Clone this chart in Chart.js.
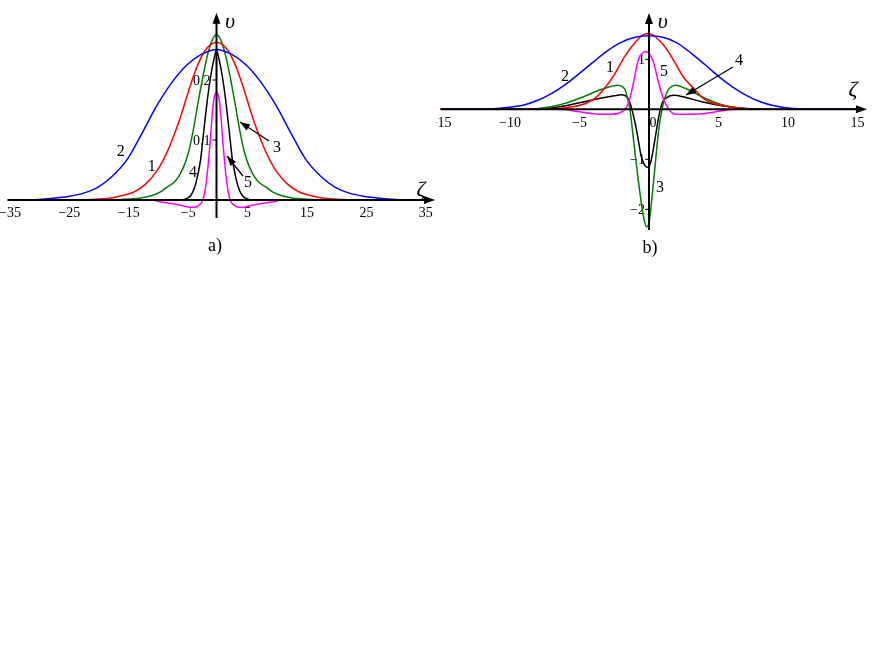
<!DOCTYPE html>
<html>
<head>
<meta charset="utf-8">
<script src="https://cdn.jsdelivr.net/npm/chart.js@4.4.0/dist/chart.umd.min.js"></script>
<style>
  body { margin: 0; background: #fff; width: 872px; height: 654px; overflow: hidden; }
  .panel { position: absolute; top: 0; width: 436px; height: 260px; }
  #wrapA { left: 0; }
  #wrapB { left: 436px; }
</style>
</head>
<body>
<div class="panel" id="wrapA"><canvas id="chartA" width="436" height="260"></canvas></div>
<div class="panel" id="wrapB"><canvas id="chartB" width="436" height="260"></canvas></div>
<script>
// ---- pannello a) ----
const zetaA1 = [-35, -25, -21, -18, -16, -14, -12, -10, -9, -8, -7, -6, -5, -4, -3, -2, -1, 0, 1, 2, 3, 4, 5, 6, 7, 8, 9, 10, 12, 14, 16, 18, 21, 25, 35];
const vA1 = [0, 0, 0.001, 0.003, 0.007, 0.013, 0.026, 0.049, 0.066, 0.087, 0.112, 0.140, 0.172, 0.203, 0.229, 0.248, 0.259, 0.263, 0.259, 0.248, 0.229, 0.203, 0.172, 0.140, 0.112, 0.087, 0.066, 0.049, 0.026, 0.013, 0.007, 0.003, 0.001, 0, 0];

const zetaA2 = [-35, -30, -27.5, -25, -22.5, -20, -17.5, -15, -12.5, -10, -7.5, -5, -2.5, 0, 2.5, 5, 7.5, 10, 12.5, 15, 17.5, 20, 22.5, 25, 27.5, 30, 35];
const vA2 = [0, 0.001, 0.003, 0.006, 0.011, 0.021, 0.040, 0.068, 0.112, 0.158, 0.196, 0.225, 0.243, 0.251, 0.243, 0.225, 0.196, 0.158, 0.112, 0.068, 0.040, 0.021, 0.011, 0.006, 0.003, 0.001, 0];

const zetaA3 = [-35, -20, -16, -13, -11, -9.5, -8.4, -7, -6.2, -5.5, -4.75, -3.9, -3, -2.2, -1.5, -0.75, 0, 0.75, 1.5, 2.2, 3, 3.9, 4.75, 5.5, 6.2, 7, 8.4, 9.5, 11, 13, 16, 20, 35];
const vA3 = [0, 0, 0.001, 0.003, 0.007, 0.013, 0.021, 0.031, 0.042, 0.056, 0.078, 0.117, 0.168, 0.21, 0.242, 0.266, 0.276, 0.266, 0.242, 0.21, 0.168, 0.117, 0.078, 0.056, 0.042, 0.031, 0.021, 0.013, 0.007, 0.003, 0.001, 0, 0];

const zetaA4 = [-35, -6, -4.9, -4.3, -3.75, -3.15, -2.65, -2.25, -1.6, -1.0, -0.35, 0, 0.35, 1.0, 1.6, 2.25, 2.65, 3.15, 3.75, 4.3, 4.9, 6, 35];
const vA4 = [0, 0, 0.003, 0.008, 0.019, 0.042, 0.069, 0.105, 0.162, 0.205, 0.238, 0.25, 0.238, 0.205, 0.162, 0.105, 0.069, 0.042, 0.019, 0.008, 0.003, 0, 0];

const zetaA5 = [-35, -11, -9.5, -7.5, -5.5, -4.6, -3.8, -3.0, -2.4, -2.0, -1.6, -1.3, -1.0, -0.7, -0.4, 0, 0.4, 0.7, 1.0, 1.3, 1.6, 2.0, 2.4, 3.0, 3.8, 4.6, 5.5, 7.5, 9.5, 11, 35];
const vA5 = [0, 0, -0.003, -0.006, -0.010, -0.012, -0.012, -0.009, -0.002, 0.012, 0.04, 0.07, 0.105, 0.145, 0.17, 0.179, 0.17, 0.145, 0.105, 0.07, 0.04, 0.012, -0.002, -0.009, -0.012, -0.012, -0.010, -0.006, -0.003, 0, 0];

const xTicksA = [-35, -25, -15, -5, 5, 15, 25, 35];
const yTicksA = [0.1, 0.2];

// ---- pannello b) ----
const zetaB1 = [-15, -8, -7.5, -6.3, -5.5, -4.86, -3.9, -3.2, -2.5, -1.77, -1.05, -0.43, -0.1, 0.25, 1.03, 1.75, 2.46, 3.2, 3.9, 4.6, 5.34, 6.8, 8, 15];
const vB1 = [0, 0, 0.005, 0.02, 0.05, 0.09, 0.22, 0.42, 0.69, 1.05, 1.32, 1.49, 1.51, 1.49, 1.29, 0.99, 0.65, 0.42, 0.22, 0.12, 0.07, 0.01, 0, 0];

const zetaB2 = [-15, -12, -11, -10, -9, -8, -7, -6, -5, -4, -3, -2, -1, 0, 1, 2, 3, 4, 5, 6, 7, 8, 9, 10, 11, 12, 15];
const vB2 = [0, 0, 0.015, 0.04, 0.085, 0.18, 0.32, 0.5, 0.72, 0.95, 1.17, 1.34, 1.44, 1.47, 1.44, 1.33, 1.13, 0.9, 0.66, 0.45, 0.28, 0.15, 0.07, 0.025, 0.008, 0, 0];

const zetaB3 = [-15, -9.5, -7.8, -6.4, -5, -3.5, -2.7, -2.3, -1.9, -1.7, -1.55, -1.37, -1.2, -1.0, -0.65, -0.36, -0.17, 0, 0.34, 0.7, 0.94, 1.3, 1.6, 1.9, 2.6, 3.8, 5.25, 6.7, 8.5, 15];
const vB3 = [0, 0, 0.02, 0.09, 0.22, 0.39, 0.46, 0.48, 0.45, 0.38, 0.22, 0, -0.4, -0.88, -1.68, -2.2, -2.35, -2.27, -1.41, -0.41, 0, 0.35, 0.45, 0.48, 0.42, 0.25, 0.09, 0.02, 0, 0];

const zetaB4 = [-15, -9.5, -7.8, -6.4, -5, -3.5, -2.5, -2.0, -1.6, -1.4, -1.25, -0.9, -0.55, -0.3, -0.1, 0.1, 0.34, 0.7, 0.94, 1.3, 1.8, 2.6, 3.8, 5.25, 6.7, 8.5, 15];
const vB4 = [0, 0, 0.01, 0.05, 0.13, 0.22, 0.27, 0.29, 0.25, 0.15, 0.02, -0.41, -0.95, -1.12, -1.16, -1.08, -0.75, -0.15, 0.12, 0.24, 0.28, 0.24, 0.15, 0.07, 0.02, 0, 0];

const zetaB5 = [-15, -6.5, -5, -3.5, -2.8, -2.1, -1.6, -1.35, -1.13, -0.77, -0.45, -0.2, 0, 0.34, 0.7, 1.06, 1.42, 1.9, 2.6, 3.8, 5.25, 6.3, 15];
const vB5 = [0, 0, -0.05, -0.1, -0.1, -0.07, 0.05, 0.25, 0.52, 0.99, 1.13, 1.15, 1.12, 0.92, 0.52, 0.19, 0, -0.1, -0.1, -0.09, -0.03, 0, 0];

const xTicksB = [-15, -10, -5, 5, 10, 15];
const yTicksB = [1, -1, -2];

const colors = { 1: '#ff0000', 2: '#0000ff', 3: '#008000', 4: '#000000', 5: '#ff00ff' };
const serif = '"Liberation Serif", "DejaVu Serif", serif';

function series(n, zeta, v) {
    return {
        label: String(n),
        data: zeta.map((z, i) => ({ x: z, y: v[i] })),
        borderColor: colors[n],
        borderWidth: 1.5,
        pointRadius: 0,
        showLine: true,
        fill: false,
        cubicInterpolationMode: 'monotone'
    };
}

function fmt(v) {
    return v < 0 ? '\u2212' + Math.abs(v) : String(v);
}

function arrowHead(ctx, x1, y1, x2, y2, len, half) {
    const a = Math.atan2(y2 - y1, x2 - x1);
    const c = Math.cos(a), s = Math.sin(a);
    ctx.beginPath();
    ctx.moveTo(x2, y2);
    ctx.lineTo(x2 - len * c + half * s, y2 - len * s - half * c);
    ctx.lineTo(x2 - len * c - half * s, y2 - len * s + half * c);
    ctx.closePath();
    ctx.fill();
}

// disegna assi, tacche ed etichette usando le scale del grafico
function axesPlugin(p) {
    return {
        id: 'axes',
        beforeDatasetsDraw(chart) {
            const ctx = chart.ctx;
            const X = v => chart.scales.x.getPixelForValue(v);
            const Y = v => chart.scales.y.getPixelForValue(v);
            const x0 = X(0), y0 = Y(0);
            ctx.save();
            ctx.fillStyle = '#000';
            ctx.strokeStyle = '#000';
            ctx.lineWidth = 1;
            ctx.font = '14px ' + serif;
            ctx.textAlign = 'center';
            ctx.textBaseline = 'middle';
            p.xTicks.forEach(t => ctx.fillText(fmt(t), X(t) + p.xLabelShift, y0 + p.xLabelDy));
            if (p.originLabel) ctx.fillText('0', x0 + 4, y0 + p.xLabelDy);
            ctx.textAlign = 'right';
            p.yTicks.forEach(t => {
                ctx.beginPath();
                ctx.moveTo(x0 - 4, Y(t));
                ctx.lineTo(x0, Y(t));
                ctx.stroke();
                ctx.fillText(fmt(t), x0 - p.yLabelGap, Y(t) + 1);
            });
            ctx.restore();
        },
        afterDatasetsDraw(chart) {
            const ctx = chart.ctx;
            const X = v => chart.scales.x.getPixelForValue(v);
            const Y = v => chart.scales.y.getPixelForValue(v);
            const x0 = X(0), y0 = Y(0);
            ctx.save();
            ctx.strokeStyle = '#000';
            ctx.fillStyle = '#000';
            ctx.lineWidth = 2;
            // asse zeta
            ctx.beginPath();
            ctx.moveTo(X(p.xFrom), y0);
            ctx.lineTo(X(p.xTo) - 6, y0);
            ctx.stroke();
            arrowHead(ctx, X(p.xFrom), y0, X(p.xTo), y0, 11, 4);
            // asse v
            ctx.beginPath();
            ctx.moveTo(x0, Y(p.yFrom));
            ctx.lineTo(x0, Y(p.yTo) + 6);
            ctx.stroke();
            arrowHead(ctx, x0, Y(p.yFrom), x0, Y(p.yTo), 11, 4);

            ctx.font = 'italic 22px ' + serif;
            ctx.textAlign = 'center';
            ctx.textBaseline = 'middle';
            ctx.fillText('\u03c5', X(p.vName[0]), Y(p.vName[1]));
            ctx.fillText('\u03b6', X(p.zName[0]), Y(p.zName[1]));

            ctx.font = '16px ' + serif;
            p.curveLabels.forEach(l => ctx.fillText(l.t, X(l.x), Y(l.y)));
            ctx.font = '18px ' + serif;
            ctx.fillText(p.title, X(p.titlePos[0]), Y(p.titlePos[1]));

            ctx.lineWidth = 1.3;
            p.pointers.forEach(a => {
                const x1 = X(a[0]), y1 = Y(a[1]), x2 = X(a[2]), y2 = Y(a[3]);
                ctx.beginPath();
                ctx.moveTo(x1, y1);
                ctx.lineTo(x2, y2);
                ctx.stroke();
                arrowHead(ctx, x1, y1, x2, y2, 10, 3.5);
            });
            ctx.restore();
        }
    };
}

function makeChart(id, datasets, xr, yr, p) {
    return new Chart(document.getElementById(id), {
        type: 'scatter',
        data: { datasets: datasets },
        options: {
            responsive: false,
            animation: false,
            layout: { padding: 0 },
            scales: {
                x: { type: 'linear', min: xr[0], max: xr[1], display: false },
                y: { type: 'linear', min: yr[0], max: yr[1], display: false }
            },
            plugins: { legend: { display: false }, tooltip: { enabled: false } }
        },
        plugins: [axesPlugin(p)]
    });
}

// zeta = 0 a x = 216.5 px, 5.94 px per unita'; v = 0 a y = 200 px, 600 px per unita'
makeChart('chartA', [
    series(2, zetaA2, vA2),
    series(1, zetaA1, vA1),
    series(3, zetaA3, vA3),
    series(5, zetaA5, vA5),
    series(4, zetaA4, vA4)
], [-36.448, 36.953], [-0.1, 0.33333], {
    xTicks: xTicksA, yTicks: yTicksA, xLabelDy: 13, xLabelShift: 1.4, yLabelGap: 6,
    xFrom: -35.2, xTo: 36.8, yFrom: -0.03, yTo: 0.312,
    vName: [2.3, 0.297], zName: [34.4, 0.0167],
    title: 'a)', titlePos: [-0.25, -0.0767],
    curveLabels: [
        { t: '2', x: -16.1, y: 0.08 },
        { t: '1', x: -10.9, y: 0.055 },
        { t: '4', x: -3.96, y: 0.045 },
        { t: '3', x: 10.2, y: 0.0867 },
        { t: '5', x: 5.3, y: 0.0283 }
    ],
    pointers: [[8.84, 0.0983, 3.96, 0.13], [4.46, 0.04, 1.77, 0.0733]]
});

// zeta = 0 a x = 649 px, 13.9 px per unita'; v = 0 a y = 109.3 px, 50 px per unita'
makeChart('chartB', [
    series(2, zetaB2, vB2),
    series(1, zetaB1, vB1),
    series(5, zetaB5, vB5),
    series(3, zetaB3, vB3),
    series(4, zetaB4, vB4)
], [-15.324, 16.043], [-3.014, 2.186], {
    xTicks: xTicksB, yTicks: yTicksB, xLabelDy: 14, xLabelShift: 0, yLabelGap: 4,
    originLabel: true,
    xFrom: -14.96, xTo: 15.68, yFrom: -2.414, yTo: 1.926,
    vName: [1.0, 1.746], zName: [14.68, 0.386],
    title: 'b)', titlePos: [0.07, -2.774],
    curveLabels: [
        { t: '2', x: -6.04, y: 0.646 },
        { t: '1', x: -2.81, y: 0.826 },
        { t: '5', x: 1.08, y: 0.746 },
        { t: '4', x: 6.47, y: 0.966 },
        { t: '3', x: 0.79, y: -1.574 }
    ],
    pointers: [[6.04, 0.846, 2.66, 0.286]]
});
</script>
</body>
</html>
